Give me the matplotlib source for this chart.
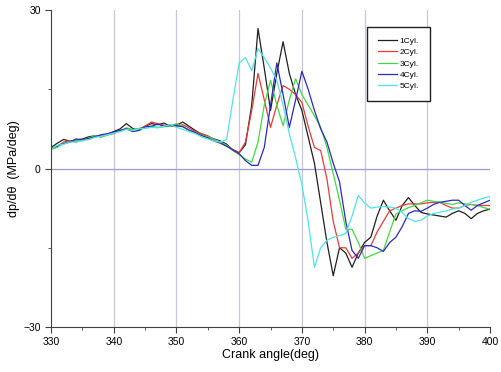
import numpy as np
import matplotlib
matplotlib.use("Agg")
import matplotlib.pyplot as plt
from matplotlib.ticker import MultipleLocator

plt.rcParams['font.family'] = ['Liberation Sans', 'DejaVu Sans']

# Crank angle, 1 deg steps
angle = np.arange(330, 401)

cyl1 = [4.0, 4.8, 5.5, 5.2, 5.4, 5.6, 6.0, 6.2, 6.0, 6.5, 7.0, 7.5, 8.5, 7.6, 7.2, 8.0,
        8.5, 8.3, 8.6, 8.0, 8.2, 8.8, 8.0, 7.2, 6.5, 6.0, 5.6, 5.2, 4.6, 3.5, 3.0,
        4.5, 12, 26.5, 19, 11, 18, 24, 18, 14, 11, 6, 1, -6.5, -14, -20.3, -15, -16,
        -18.7, -16, -14, -13, -9, -6, -8, -9.8, -7, -5.5, -7, -8.3, -8.6, -8.8, -9,
        -9.2, -8.5, -8, -8.5, -9.5, -8.5, -8, -7.7]
cyl2 = [3.8, 4.2, 5.0, 5.3, 5.0, 5.5, 5.5, 6.0, 6.3, 6.4, 6.6, 7.2, 7.6, 7.3, 7.5, 8.0,
        8.8, 8.5, 8.2, 8.0, 8.0, 8.3, 7.7, 7.0, 6.6, 6.2, 5.5, 5.0, 4.3, 3.6, 3.0,
        5, 11, 18, 13, 7.8, 12, 15.7, 15, 14, 12.5, 8, 4, 3.4, -2, -10, -15, -15,
        -17, -16, -14.6, -14.6, -12, -10, -8, -7.5, -7, -6.7, -6.7, -6.7, -6.5, -6.4,
        -6.4, -7, -7.5, -7.5, -7, -6.8, -7, -7, -7]
cyl3 = [3.6, 4.0, 4.8, 5.0, 5.4, 5.2, 5.8, 6.2, 6.0, 6.3, 6.8, 7.0, 7.7, 7.4, 7.6, 7.6,
        8.0, 7.8, 7.9, 8.0, 8.5, 8.0, 7.2, 6.8, 6.3, 6.0, 5.5, 5.0, 4.4, 3.4, 2.6,
        1.8, 1.2, 5, 12, 16.7, 12, 8.1, 13, 17, 14, 12, 10, 7.8, 4, -1, -6, -11.5,
        -11.5, -14, -17, -16.5, -16, -15.5, -12, -8.6, -8, -7.4, -7, -6.5, -6, -6.2,
        -6.4, -6.6, -6.8, -6.5, -6.7, -6.8, -7, -7.4, -7.7]
cyl4 = [3.8, 4.3, 4.7, 5.0, 5.6, 5.4, 5.7, 6.0, 6.4, 6.6, 6.9, 7.2, 7.5, 7.0, 7.2, 7.9,
        8.0, 8.4, 8.0, 8.2, 8.1, 7.9, 7.3, 6.8, 6.2, 5.8, 5.2, 4.8, 4.2, 3.5, 2.8,
        1.5, 0.6, 0.6, 4, 12, 20, 14, 7.8, 13, 18.4, 15, 11, 7.5, 5, 1, -2.5, -10,
        -15.5, -17, -14.6, -14.6, -15, -15.7, -14, -13, -11, -8.5, -8, -8.1, -7.5,
        -6.8, -6.4, -6.2, -6, -6, -7, -7.9, -7, -6.5, -6]
cyl5 = [3.7, 4.4, 4.6, 5.0, 5.0, 5.3, 5.5, 5.9, 6.1, 6.4, 6.7, 7.0, 7.4, 7.2, 7.5, 7.6,
        7.8, 7.7, 8.0, 8.3, 7.8, 7.4, 7.0, 6.6, 6.0, 5.6, 5.2, 5.0, 5.5, 13, 20,
        21, 18.5, 22.7, 21, 19, 16.7, 12, 6.6, 2, -3, -10, -18.7, -15, -13.6, -13,
        -12.7, -12.3, -9, -5.1, -6.5, -7.5, -7.3, -7.2, -7.3, -7.5, -8.3, -9.5, -10,
        -9.8, -9, -8.5, -8.3, -8, -7.7, -7.5, -7, -6.4, -6, -5.6, -5.3]

series = [cyl1, cyl2, cyl3, cyl4, cyl5]
labels = ["1Cyl.", "2Cyl.", "3Cyl.", "4Cyl.", "5Cyl."]
colors = ["#202020", "#e83a3a", "#44d844", "#2a2ac0", "#50e4e8"]

fig = plt.figure(figsize=(5.01, 3.72), dpi=100)
ax = fig.add_axes([0.102, 0.121, 0.876, 0.852])

# grid lines
for gx in range(340, 400, 10):
    ax.axvline(gx, color="#c8c8dc", lw=0.9, zorder=0)
ax.axhline(0, color="#9a9ad4", lw=0.9, zorder=0)

for y, lab, c in zip(series, labels, colors):
    ax.plot(angle, y, color=c, lw=0.9, label=lab)

ax.set_xlim(330, 400)
ax.set_ylim(-30, 30)
ax.xaxis.set_major_locator(MultipleLocator(10))
ax.xaxis.set_minor_locator(MultipleLocator(5))
ax.set_yticks([-30, 0, 30])
ax.yaxis.set_minor_locator(MultipleLocator(15))
ax.tick_params(which="both", direction="out", labelsize=7.5, color="#404040")
ax.tick_params(which="major", length=4)
ax.tick_params(which="minor", length=2.5)

for s in ["top", "right"]:
    ax.spines[s].set_visible(False)
for s in ["left", "bottom"]:
    ax.spines[s].set_color("#404040")

ax.set_xlabel("Crank angle(deg)", fontsize=9, labelpad=1)
ax.set_ylabel("dp/dθ  (MPa/deg)", fontsize=9, labelpad=2)

leg = ax.legend(loc="upper left", bbox_to_anchor=(0.72, 0.948), fontsize=6,
                fancybox=False, edgecolor="#202020", framealpha=1,
                handlelength=2.3, labelspacing=0.4, borderpad=1.3,
                handletextpad=0.3, borderaxespad=0)
leg.get_frame().set_linewidth(1.0)

fig.savefig("out.png", dpi=100)
